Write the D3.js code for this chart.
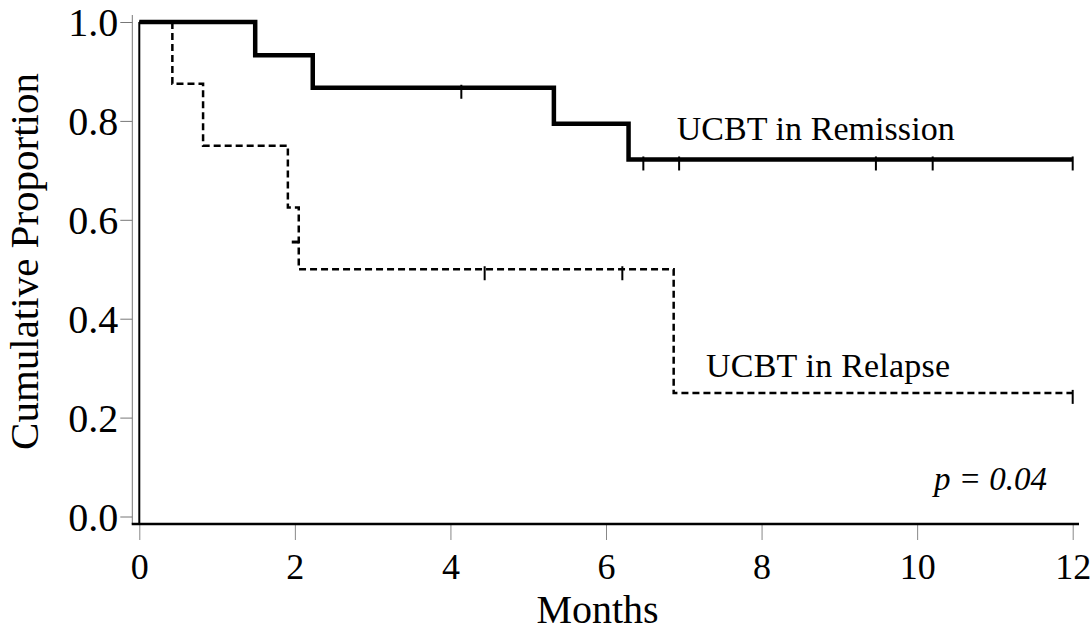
<!DOCTYPE html>
<html>
<head>
<meta charset="utf-8">
<script src="https://cdn.jsdelivr.net/npm/d3@7"></script>
<style>
  body { margin: 0; background: #fff; }
  svg { display: block; font-family: "Liberation Serif", "Times New Roman", serif; }
</style>
</head>
<body>
<svg id="chart" width="1092" height="631"></svg>
<script>
// Kaplan-Meier steps (months, proportion)
const remissionTimes = [0, 1.49, 2.23, 5.33, 6.29];
const remissionSurv = [1.0, 0.933, 0.867, 0.794, 0.722];
const remissionCensor = [4.14, 6.48, 6.94, 9.47, 10.2, 12];

const relapseTimes = [0, 0.425, 0.82, 1.91, 2.05, 6.87];
const relapseSurv = [1.0, 0.875, 0.75, 0.625, 0.5, 0.25];
const relapseCensor = [4.44, 6.21, 12];
// odd little side mark on the relapse drop near 2 months
const relapseSideMark = {t: 2.05, s: 0.555};

const endTime = 12;
const xTicks = [0, 2, 4, 6, 8, 10, 12];
const yTicks = [0, 0.2, 0.4, 0.6, 0.8, 1.0];

const svg = d3.select("#chart");
const serif = '"Liberation Serif", "Times New Roman", serif';

const x = d3.scaleLinear().domain([0, 12]).range([139.3, 1072.7]);
const y = d3.scaleLinear().domain([0, 1]).range([516.5, 22]);
const axisY = 524;

// step value at time t
const survAt = (times, surv, t) => {
  let v = surv[0];
  times.forEach((tt, i) => { if (tt <= t) v = surv[i]; });
  return v;
};

const toPoints = (times, surv) => {
  const pts = times.map((t, i) => [t, surv[i]]);
  pts.push([endTime, surv[surv.length - 1]]);
  return pts;
};

const line = d3.line()
  .x(d => x(d[0]))
  .y(d => y(d[1]))
  .curve(d3.curveStepAfter);

// y axis (thin grey)
const yAxis = svg.append("g")
  .attr("transform", "translate(132.3,0)")
  .call(d3.axisLeft(y).tickValues(yTicks).tickSize(12).tickPadding(2)
    .tickFormat(d3.format(".1f")));
yAxis.attr("font-family", serif);
yAxis.select(".domain").remove();
yAxis.selectAll(".tick line").attr("stroke", "#777").attr("stroke-width", 1);
yAxis.selectAll(".tick text")
  .attr("font-size", 40).attr("fill", "#000")
  .attr("dy", "0.34em");
svg.append("line")
  .attr("x1", 132.3).attr("x2", 132.3)
  .attr("y1", 15).attr("y2", axisY)
  .attr("stroke", "#777").attr("stroke-width", 1);

// x axis
const xAxis = svg.append("g")
  .attr("transform", `translate(0,${axisY})`)
  .call(d3.axisBottom(x).tickValues(xTicks).tickSize(16).tickPadding(13));
xAxis.attr("font-family", serif);
xAxis.select(".domain").remove();
xAxis.selectAll(".tick line").attr("stroke", "#888").attr("stroke-width", 1);
xAxis.selectAll(".tick text").attr("font-size", 36).attr("fill", "#000");
svg.append("line")
  .attr("x1", 131.7).attr("x2", 1079)
  .attr("y1", axisY).attr("y2", axisY)
  .attr("stroke", "#000").attr("stroke-width", 2.5);

// common start line at t = 0
svg.append("line")
  .attr("x1", x(0)).attr("x2", x(0))
  .attr("y1", y(1)).attr("y2", axisY)
  .attr("stroke", "#000").attr("stroke-width", 2);

// relapse curve, dashed
svg.append("path")
  .datum(toPoints(relapseTimes, relapseSurv))
  .attr("d", line)
  .attr("fill", "none")
  .attr("stroke", "#000")
  .attr("stroke-width", 2.5)
  .attr("stroke-dasharray", "7,4");

svg.selectAll("line.relapse-censor")
  .data(relapseCensor)
  .enter().append("line")
  .attr("class", "relapse-censor")
  .attr("x1", d => x(d)).attr("x2", d => x(d))
  .attr("y1", d => y(survAt(relapseTimes, relapseSurv, d)) - 3)
  .attr("y2", d => y(survAt(relapseTimes, relapseSurv, d)) + 11)
  .attr("stroke", "#000").attr("stroke-width", 2);

svg.append("line")
  .attr("x1", x(relapseSideMark.t) - 7).attr("x2", x(relapseSideMark.t))
  .attr("y1", y(relapseSideMark.s)).attr("y2", y(relapseSideMark.s))
  .attr("stroke", "#000").attr("stroke-width", 3);

// remission curve, solid
svg.append("path")
  .datum(toPoints(remissionTimes, remissionSurv))
  .attr("d", line)
  .attr("fill", "none")
  .attr("stroke", "#000")
  .attr("stroke-width", 4.5)
  .attr("stroke-linejoin", "miter");

svg.selectAll("line.remission-censor")
  .data(remissionCensor)
  .enter().append("line")
  .attr("class", "remission-censor")
  .attr("x1", d => x(d)).attr("x2", d => x(d))
  .attr("y1", d => y(survAt(remissionTimes, remissionSurv, d)) - 3)
  .attr("y2", d => y(survAt(remissionTimes, remissionSurv, d)) + 11)
  .attr("stroke", "#000").attr("stroke-width", 2);

// labels
svg.append("text")
  .attr("x", 676.7).attr("y", 140)
  .attr("font-size", 34)
  .attr("textLength", 278)
  .text("UCBT in Remission");

svg.append("text")
  .attr("x", 706).attr("y", 377)
  .attr("font-size", 34)
  .attr("textLength", 244)
  .text("UCBT in Relapse");

svg.append("text")
  .attr("x", 1047).attr("y", 490)
  .attr("text-anchor", "end")
  .attr("font-size", 33)
  .attr("font-style", "italic")
  .text("p = 0.04");

svg.append("text")
  .attr("x", 597.5).attr("y", 623)
  .attr("text-anchor", "middle")
  .attr("font-size", 40)
  .text("Months");

svg.append("text")
  .attr("transform", "translate(38,261.5) rotate(-90)")
  .attr("text-anchor", "middle")
  .attr("font-size", 41)
  .text("Cumulative Proportion");
</script>
</body>
</html>
